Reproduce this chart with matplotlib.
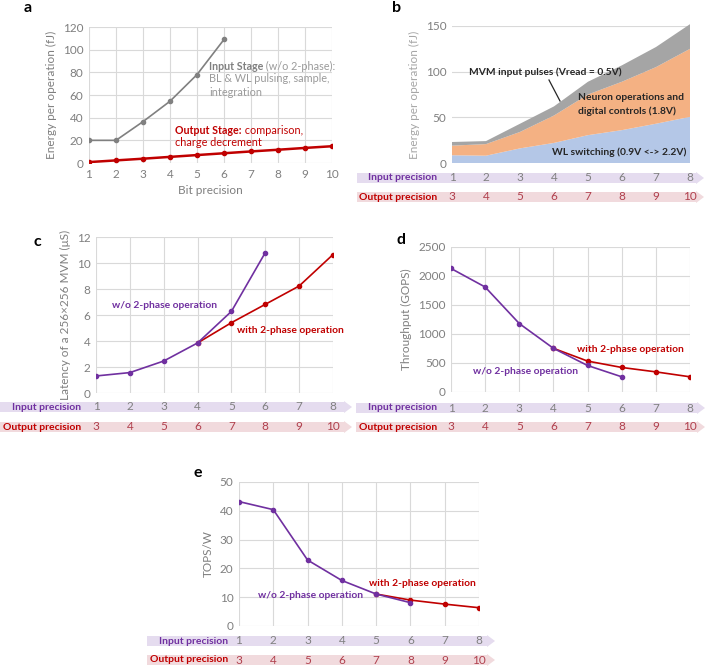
import matplotlib
matplotlib.use("Agg")
import matplotlib.pyplot as plt
from matplotlib.patches import Polygon
from matplotlib.transforms import blended_transform_factory

plt.rcParams['font.family'] = ['Lato', 'DejaVu Sans']

W, H = 707, 669

# ---- data ----
bits_a = [1, 2, 3, 4, 5, 6, 7, 8, 9, 10]
input_stage = [20, 20, 36.5, 54.5, 78, 109]
output_stage = [0.8, 2.3, 3.8, 5.4, 7.0, 8.6, 10.2, 11.7, 13.3, 14.8]

in_prec = [1, 2, 3, 4, 5, 6, 7, 8]
out_prec = [3, 4, 5, 6, 7, 8, 9, 10]

wl_switch = [8.5, 8.0, 16, 22, 30.5, 36, 43, 50.5]
neuron_ops = [10.5, 12.7, 18, 30, 44.5, 53, 62, 74.5]
mvm_pulses = [4, 3.3, 9, 10, 14, 18, 22, 27]

lat_wo = [1.31, 1.57, 2.46, 3.85, 6.28, 10.8]
lat_with = [3.85, 5.41, 6.82, 8.23, 10.65]

thr_wo = [2130, 1810, 1180, 753, 457, 262]
thr_with = [753, 533, 423, 347, 262]

eff_wo = [43.2, 40.4, 22.9, 15.8, 11.1, 8.1]
eff_with = [11.1, 9.0, 7.6, 6.35]

PURPLE = '#7030a0'
RED = '#c00000'
GRID = '#d9d9d9'
TICK = '#7f7f7f'
BOLD_SZ = 7.4
REG_SZ = 7.8

fig = plt.figure(figsize=(W / 100, H / 100), dpi=100)


def add_ax(left, top, right, bottom):
    return fig.add_axes([left / W, 1 - bottom / H, (right - left) / W, (bottom - top) / H])


def style(ax, vgrid=True):
    for s in ax.spines.values():
        s.set_visible(False)
    ax.grid(True, axis='y', color=GRID, lw=0.8)
    if vgrid:
        ax.grid(True, axis='x', color=GRID, lw=0.8)
    ax.set_axisbelow(True)
    ax.tick_params(length=0, labelsize=8.5, colors=TICK, pad=4)


def panel_label(x, y, s):
    fig.text(x / W, 1 - y / H, s, fontsize=11.5, fontweight='bold', ha='left', va='center')


def fig_txt(x, y, s, **kw):
    return fig.text(x / W, 1 - y / H, s, va='center', **kw)


def after(prev, s, **kw):
    # continue a line of text right after the previous piece
    return fig.add_artist(plt.Annotation(' ' + s, xy=(1, 0), xycoords=prev, va='bottom', ha='left', **kw))


def precision_rows(ax, y_in, y_out, x0, x1, label_x):
    h, hh = 10, 12
    for yc, col in [(y_in, '#e5dcef'), (y_out, '#f1dadd')]:
        xe = x1 - 8
        pts = [(x0, yc - h / 2), (xe, yc - h / 2), (xe, yc - hh / 2), (x1, yc),
               (xe, yc + hh / 2), (xe, yc + h / 2), (x0, yc + h / 2)]
        fig.patches.append(Polygon([(px / W, 1 - py / H) for px, py in pts], closed=True,
                                   transform=fig.transFigure, facecolor=col, edgecolor='none'))
    fig_txt(label_x, y_in, 'Input precision', ha='right', color=PURPLE, fontsize=7.5, fontweight='bold')
    fig_txt(label_x, y_out, 'Output precision', ha='right', color=RED, fontsize=7.5, fontweight='bold')
    tr = blended_transform_factory(ax.transData, fig.transFigure)
    for x, a, b in zip(in_prec, in_prec, out_prec):
        fig.text(x, 1 - y_in / H, str(a), transform=tr, ha='center', va='center', fontsize=8.5, color='#808080')
        fig.text(x, 1 - y_out / H, str(b), transform=tr, ha='center', va='center', fontsize=8.5, color='#b0404d')


# ---- panel a ----
ax = add_ax(89, 27, 332, 163)
style(ax)
ax.plot(bits_a[:len(input_stage)], input_stage, color='#808080', lw=1.2, marker='o', ms=3)
ax.plot(bits_a, output_stage, color=RED, lw=1.8, marker='o', ms=3)
ax.set_xlim(1, 10)
ax.set_ylim(0, 120)
ax.set_xticks(bits_a)
ax.set_yticks(range(0, 121, 20))
ax.set_xlabel('Bit precision', fontsize=8.5, color=TICK, labelpad=4)
ax.set_ylabel('Energy per operation (fJ)', fontsize=8.5, color=TICK, labelpad=4)
panel_label(24, 8, 'a')
t = fig_txt(209, 66, 'Input Stage', ha='left', color='#808080', fontsize=BOLD_SZ + 0.3, fontweight='bold')
after(t, '(w/o 2-phase):', color='#9a9a9a', fontsize=REG_SZ)
fig_txt(209, 79, 'BL & WL pulsing, sample,', ha='left', color='#9a9a9a', fontsize=REG_SZ)
fig_txt(209, 92, 'integration', ha='left', color='#9a9a9a', fontsize=REG_SZ)
t = fig_txt(175, 130, 'Output Stage:', ha='left', color=RED, fontsize=BOLD_SZ + 0.3, fontweight='bold')
after(t, 'comparison,', color=RED, fontsize=REG_SZ)
fig_txt(175, 143, 'charge decrement', ha='left', color=RED, fontsize=REG_SZ)

# ---- panel b ----
ax = add_ax(452, 26, 690, 163)
style(ax, vgrid=False)
ax.stackplot(in_prec, wl_switch, neuron_ops, mvm_pulses,
             colors=['#b4c7e7', '#f4b183', '#a5a5a5'], lw=0)
ax.set_xlim(1, 8)
ax.set_ylim(0, 150)
ax.set_yticks([0, 50, 100, 150])
ax.set_xticks([])
ax.set_ylabel('Energy per operation (fJ)', fontsize=8.5, color='#a6a6a6', labelpad=4)
for c in ax.collections:
    c.set_clip_on(False)
panel_label(392, 8, 'b')
fig_txt(469, 72, 'MVM input pulses (Vread = 0.5V)', ha='left', fontsize=BOLD_SZ, fontweight='bold', color='#262626')
fig.add_artist(plt.Line2D([549 / W, 560 / W], [1 - 80 / H, 1 - 101 / H], color='#262626', lw=0.9))
fig_txt(578, 98, 'Neuron operations and', ha='left', fontsize=BOLD_SZ, fontweight='bold', color='#262626')
fig_txt(578, 111, 'digital controls (1.8V)', ha='left', fontsize=BOLD_SZ, fontweight='bold', color='#262626')
fig_txt(552, 152, 'WL switching (0.9V <-> 2.2V)', ha='left', fontsize=BOLD_SZ, fontweight='bold', color='#262626')
precision_rows(ax, 178, 197, 357, 704, 437)

# ---- panel c ----
ax = add_ax(96, 237, 333, 393)
style(ax)
ax.plot(in_prec[:len(lat_wo)], lat_wo, color=PURPLE, lw=1.2, marker='o', ms=3, zorder=3)
ax.plot(in_prec[3:], lat_with, color=RED, lw=1.2, marker='o', ms=3, zorder=2)
ax.set_xlim(1, 8)
ax.set_ylim(0, 12)
ax.set_yticks(range(0, 13, 2))
ax.set_xticks(in_prec)
ax.set_xticklabels([])
ax.set_ylabel('Latency of a 256×256 MVM (μS)', fontsize=8.5, color=TICK, labelpad=4)
panel_label(33, 242, 'c')
fig_txt(112, 306, 'w/o 2-phase operation', ha='left', fontsize=BOLD_SZ, fontweight='bold', color=PURPLE)
fig_txt(237, 331, 'with 2-phase operation', ha='left', fontsize=BOLD_SZ, fontweight='bold', color=RED)
precision_rows(ax, 407, 427, 0, 352, 81)

# ---- panel d ----
ax = add_ax(451, 247, 690, 392)
style(ax)
ax.plot(in_prec[:len(thr_wo)], thr_wo, color=PURPLE, lw=1.2, marker='o', ms=3, zorder=3)
ax.plot(in_prec[3:], thr_with, color=RED, lw=1.2, marker='o', ms=3, zorder=2)
ax.set_xlim(1, 8)
ax.set_ylim(0, 2500)
ax.set_yticks(range(0, 2501, 500))
ax.set_xticks(in_prec)
ax.set_xticklabels([])
ax.set_ylabel('Throughput (GOPS)', fontsize=8.5, color=TICK, labelpad=4)
panel_label(397, 240, 'd')
fig_txt(577, 349, 'with 2-phase operation', ha='left', fontsize=BOLD_SZ, fontweight='bold', color=RED)
fig_txt(473, 371, 'w/o 2-phase operation', ha='left', fontsize=BOLD_SZ, fontweight='bold', color=PURPLE)
precision_rows(ax, 408, 427, 356, 705, 437)

# ---- panel e ----
ax = add_ax(239, 482, 479, 626)
style(ax)
ax.plot(in_prec[:len(eff_wo)], eff_wo, color=PURPLE, lw=1.2, marker='o', ms=3, zorder=3)
ax.plot(in_prec[4:], eff_with, color=RED, lw=1.2, marker='o', ms=3, zorder=2)
ax.set_xlim(1, 8)
ax.set_ylim(0, 50)
ax.set_yticks(range(0, 51, 10))
ax.set_xticks(in_prec)
ax.set_xticklabels([])
ax.set_ylabel('TOPS/W', fontsize=8.5, color=TICK, labelpad=4)
panel_label(193, 473, 'e')
fig_txt(369, 583, 'with 2-phase operation', ha='left', fontsize=BOLD_SZ, fontweight='bold', color=RED)
fig_txt(258, 596, 'w/o 2-phase operation', ha='left', fontsize=BOLD_SZ, fontweight='bold', color=PURPLE)
precision_rows(ax, 641, 660, 147, 495, 228)

fig.savefig('out.png', dpi=100)
